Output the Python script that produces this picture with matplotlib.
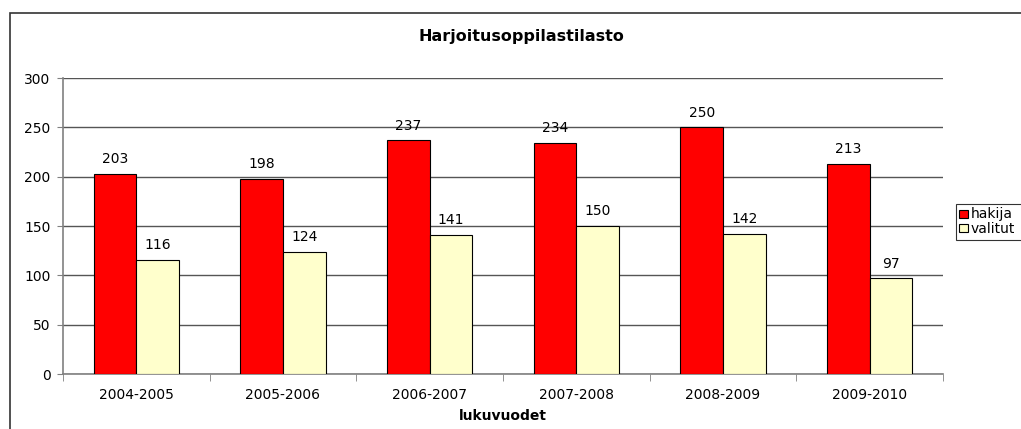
import numpy as np
import matplotlib.pyplot as plt
from matplotlib.patches import Rectangle

plt.rcParams['font.family'] = ['DejaVu Sans']

# 数据
years = ['2004-2005', '2005-2006', '2006-2007', '2007-2008', '2008-2009', '2009-2010']
hakija = [203, 198, 237, 234, 250, 213]
valitut = [116, 124, 141, 150, 142, 97]

fig = plt.figure(figsize=(10.21, 4.29), dpi=100)
W, H = 1021, 429

# 外框 (右、下超出图片)
fig.patches.append(Rectangle((9.5 / W, -0.5), 1.2, 1.5 - 12.5 / H, transform=fig.transFigure,
                             fill=False, edgecolor='#333333', linewidth=1.2))

ax = fig.add_axes([63 / W, 1 - 374 / H, (943 - 63) / W, (374 - 78) / H])

x = np.arange(len(years))
w = 0.29
b1 = ax.bar(x - w / 2, hakija, w, color='#FF0000', edgecolor='black', linewidth=0.8, label='hakija', zorder=3)
b2 = ax.bar(x + w / 2, valitut, w, color='#FFFFCC', edgecolor='black', linewidth=0.8, label='valitut', zorder=3)

# 数值标签
for bars in (b1, b2):
    for r in bars:
        ax.annotate('%d' % r.get_height(), (r.get_x() + r.get_width() / 2, r.get_height()),
                    xytext=(0, 5.5), textcoords='offset points', ha='center', va='bottom', fontsize=10)

ax.set_xlim(-0.5, len(years) - 0.5)
ax.set_ylim(0, 300)
ax.set_yticks(range(0, 301, 50))
ax.yaxis.grid(True, color='#555555', linewidth=1)
ax.set_axisbelow(True)

# x轴刻度在类别边界
ax.set_xticks(x)
ax.set_xticklabels(years, fontsize=10)
ax.tick_params(axis='x', length=0, pad=10)
ax.set_xticks(np.arange(-0.5, len(years)), minor=True)
ax.tick_params(axis='x', which='minor', length=5, color='#808080', direction='out')
ax.tick_params(axis='y', length=4, color='#808080', labelsize=10, pad=5)

for s in ('top', 'right'):
    ax.spines[s].set_visible(False)
for s in ('left', 'bottom'):
    ax.spines[s].set_color('#808080')
    ax.spines[s].set_linewidth(1.2)

ax.set_xlabel('lukuvuodet', fontsize=10, fontweight='bold', labelpad=5)
fig.text(521 / W, 1 - 37 / H, 'Harjoitusoppilastilasto',
         fontsize=11.5, fontweight='bold', ha='center', va='center')

# 图例 (右侧被裁切)
leg = fig.legend(handles=[b1, b2], loc='upper left',
                 bbox_to_anchor=(956 / W, 1 - 238 / H, 90 / W, 34 / H), mode='expand',
                 fontsize=10, frameon=True, fancybox=False, edgecolor='black',
                 handlelength=0.58, handleheight=0.5, handletextpad=0.25,
                 borderpad=0.25, labelspacing=0.05, borderaxespad=0)
leg.get_frame().set_linewidth(0.8)

plt.savefig('out.png', dpi=100)
